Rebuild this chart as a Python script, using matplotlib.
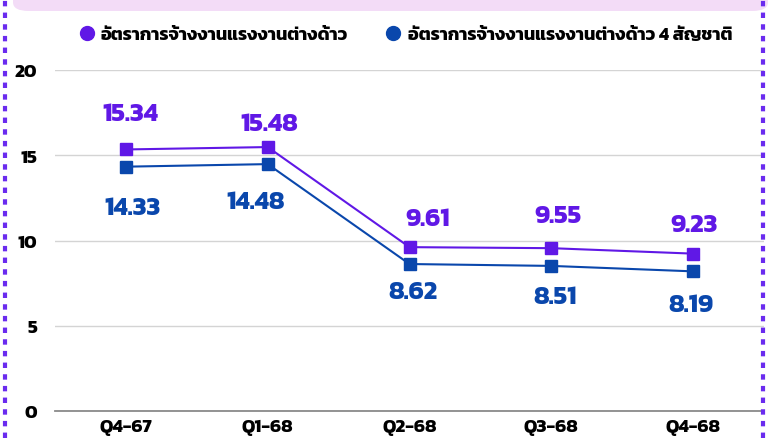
import matplotlib
matplotlib.use('Agg')
import matplotlib.pyplot as plt
from matplotlib.lines import Line2D
from matplotlib.patches import FancyBboxPatch

# ── data ──
quarters = ['Q4-67', 'Q1-68', 'Q2-68', 'Q3-68', 'Q4-68']
rate_all = [15.34, 15.48, 9.61, 9.55, 9.23]
rate_4nat = [14.33, 14.48, 8.62, 8.51, 8.19]
series_names = ['อัตราการจ้างงานแรงงานต่างด้าว', 'อัตราการจ้างงานแรงงานต่างด้าว 4 สัญชาติ']

PURPLE = '#6018E6'
BLUE = '#0A47AC'
FONT = ['Kanit', 'Noto Sans Thai', 'DejaVu Sans']
plt.rcParams['font.family'] = FONT

fig = plt.figure(figsize=(7.77, 4.39), dpi=100)
ax = fig.add_axes([55 / 777, 1 - 412 / 439, 709 / 777, 341 / 439])

x = range(len(quarters))
ax.plot(x, rate_all, color=PURPLE, lw=1.5, marker='s', ms=9, zorder=3)
ax.plot(x, rate_4nat, color=BLUE, lw=1.5, marker='s', ms=9, zorder=3)

# label offsets in pixels (dx, dy)
off_top = [(4, 38), (2, 26), (18, 31), (7, 35), (1, 32)]
off_bot = [(7, -38), (-12, -35), (3, -25), (4, -28), (-2, -31)]
for i in x:
    ax.annotate(f'{rate_all[i]:.2f}', (i, rate_all[i]), xytext=off_top[i], textcoords='offset pixels',
                ha='center', va='center_baseline', fontsize=18.5, fontweight='bold', color=PURPLE)
    ax.annotate(f'{rate_4nat[i]:.2f}', (i, rate_4nat[i]), xytext=off_bot[i], textcoords='offset pixels',
                ha='center', va='center_baseline', fontsize=18.5, fontweight='bold', color=BLUE)

ax.set_xlim(-0.5, 4.5)
ax.set_ylim(0, 20)
ax.set_yticks([0, 5, 10, 15, 20])
ax.set_xticks(list(x))
ax.set_xticklabels(quarters)
for lab in ax.get_xticklabels() + ax.get_yticklabels():
    lab.set_fontweight('bold')
    lab.set_fontsize(13.5)
ax.tick_params(axis='both', length=0)
ax.tick_params(axis='y', pad=13)
ax.tick_params(axis='x', pad=5)
ax.grid(axis='y', color='#D4D4D4', lw=1)
ax.set_axisbelow(True)
for s in ['top', 'right', 'left']:
    ax.spines[s].set_visible(False)
ax.spines['bottom'].set_color('#8A8A8A')
ax.spines['bottom'].set_linewidth(1.3)

# legend
handles = [Line2D([], [], ls='none', marker='o', ms=10, color=c) for c in (PURPLE, BLUE)]
fig.legend(handles, series_names, ncol=2, loc='center', bbox_to_anchor=(0.521, 0.918), frameon=False,
           handletextpad=0.3, columnspacing=2.0, handlelength=1.0,
           prop={'size': 13, 'weight': 'bold'})

# top banner box
fig.patches.append(FancyBboxPatch((13 / 777, 1 - 12 / 439), 755 / 777, 40 / 439, boxstyle='round,pad=0,rounding_size=0.02',
                                  transform=fig.transFigure, facecolor='#F3DCF7', edgecolor='none', zorder=0))

# dotted side borders
for xb in (4.5 / 777, 763 / 777):
    fig.add_artist(Line2D([xb, xb], [0, 1], transform=fig.transFigure, color='#6A2BEF', lw=3,
                          ls=(0, (1.3, 1.5)), solid_capstyle='butt', dash_capstyle='butt'))

fig.savefig('out.png', dpi=100)
